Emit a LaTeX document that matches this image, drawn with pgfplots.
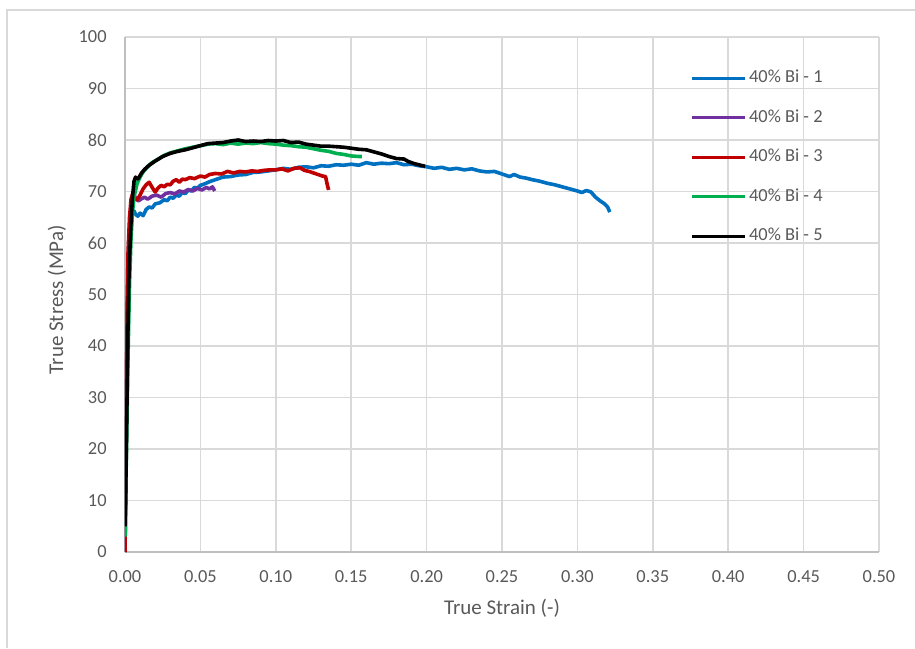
\documentclass[border=0pt]{standalone}
\usepackage{pgfplots}
\pgfplotsset{compat=1.18}
\usepackage{fontspec}
\setmainfont{Carlito}
\definecolor{sBlue}{HTML}{0070C0}
\definecolor{sPurple}{HTML}{7030A0}
\definecolor{sRed}{HTML}{C00000}
\definecolor{sGreen}{HTML}{00B050}
\definecolor{gridc}{HTML}{D9D9D9}
\definecolor{axisc}{HTML}{BFBFBF}
\definecolor{txt}{HTML}{595959}
\begin{document}
\begin{tikzpicture}
\path[use as bounding box] (-62.5pt,-48pt) rectangle (395pt,276pt);
\draw[gridc, line width=0.6pt] (-59pt,-48pt) -- (-59pt,271pt) -- (395pt,271pt);
\begin{axis}[
  scale only axis, width=377pt, height=257.5pt,
  xmin=0, xmax=0.5, ymin=0, ymax=100,
  xtick={0,0.05,...,0.5001}, ytick={0,10,...,100},
  major tick length=0pt,
  grid=major,
  major grid style={gridc, line width=0.75pt},
  axis x line*=bottom, axis y line*=left,
  axis line style={axisc, line width=0.9pt, -},
  every tick label/.append style={font=\fontsize{9.2pt}{11pt}\selectfont, text=txt},
  xticklabel style={/pgf/number format/fixed, /pgf/number format/fixed zerofill, /pgf/number format/precision=2, anchor=center, yshift=-12.5pt},
  yticklabel style={anchor=east, inner sep=0pt, xshift=-9pt},
  /pgf/number format/assume math mode=true,
  scaled x ticks=false,
  xlabel={True Strain (-)}, ylabel={True Stress (MPa)},
  every axis x label/.style={at={(axis description cs:0.5,-0.1087)}, anchor=center, font=\fontsize{10.5pt}{12pt}\selectfont, text=txt},
  every axis y label/.style={at={(axis description cs:-0.0902,0.49)}, rotate=90, anchor=center, font=\fontsize{10.5pt}{12pt}\selectfont, text=txt},
  legend style={at={(axis description cs:0.749,0.9376)}, anchor=north west, draw=none, fill=none,
    inner xsep=0pt, inner ysep=0pt, row sep=11.3pt,
    nodes={inner xsep=1.5pt, inner ysep=0pt, text height=6.5pt, text depth=2pt},
    cells={anchor=west}, font=\fontsize{9.2pt}{11pt}\selectfont, text=txt},
  legend image code/.code={\draw[#1, line width=1.5pt] (0pt,0pt) -- (26.5pt,0pt);},
  every axis plot/.append style={line width=1.8pt, line join=round},
]
\addplot[sBlue] coordinates {
(0,0)(0.0005,12)(0.001,28)(0.0015,42)(0.002,52)(0.003,60)(0.004,64)(0.005,65.8)(0.006,66.2)(0.007,65.6)(0.0085,65.2)(0.010,65.8)(0.012,65.3)(0.014,66.5)(0.016,67.0)(0.018,66.8)(0.020,67.6)(0.023,67.8)(0.026,68.4)(0.028,68.2)(0.030,68.9)(0.032,68.7)(0.034,69.3)(0.036,69.1)(0.038,69.8)(0.040,69.6)(0.042,70.3)(0.044,70.1)(0.046,70.8)(0.048,70.6)(0.050,71.2)(0.053,71.5)(0.056,71.9)(0.060,72.3)(0.065,72.8)(0.070,72.9)(0.075,73.2)(0.080,73.3)(0.085,73.7)(0.090,73.8)(0.095,74.0)(0.100,74.2)(0.105,74.5)(0.110,74.3)(0.115,74.7)(0.120,74.8)(0.125,74.6)(0.130,75.0)(0.135,74.9)(0.140,75.2)(0.145,75.1)(0.150,75.3)(0.155,75.1)(0.160,75.6)(0.165,75.3)(0.170,75.5)(0.175,75.4)(0.180,75.6)(0.185,75.2)(0.190,75.3)(0.195,75.0)(0.200,74.8)(0.205,74.5)(0.210,74.7)(0.215,74.3)(0.220,74.5)(0.225,74.2)(0.230,74.4)(0.235,74.0)(0.240,73.8)(0.245,73.9)(0.250,73.4)(0.255,72.9)(0.258,73.3)(0.262,72.8)(0.266,72.6)(0.270,72.3)(0.275,72.0)(0.280,71.6)(0.285,71.3)(0.290,70.9)(0.295,70.5)(0.300,70.1)(0.303,69.8)(0.306,70.2)(0.309,69.9)(0.312,68.9)(0.315,68.2)(0.318,67.6)(0.320,67.0)(0.3215,66.0)
};
\addlegendentry{40\% Bi - 1}
\addplot[sPurple] coordinates {
(0,0)(0.0005,14)(0.001,32)(0.0015,46)(0.002,56)(0.003,63)(0.004,67)(0.005,68.8)(0.006,69.5)(0.007,68.6)(0.009,68.2)(0.011,68.6)(0.013,68.9)(0.015,68.5)(0.018,69.1)(0.021,69.3)(0.024,68.9)(0.027,69.6)(0.030,69.8)(0.033,69.5)(0.036,70.1)(0.039,69.9)(0.042,70.4)(0.045,70.1)(0.048,70.6)(0.051,70.3)(0.054,70.8)(0.056,70.5)(0.058,70.9)(0.0595,70.1)
};
\addlegendentry{40\% Bi - 2}
\addplot[sRed] coordinates {
(0,0)(0.0005,15)(0.001,33)(0.0015,48)(0.002,58)(0.003,65)(0.004,68.5)(0.005,69.5)(0.006,68.8)(0.008,68.4)(0.010,69.3)(0.012,70.5)(0.014,71.3)(0.016,71.8)(0.018,70.8)(0.020,69.9)(0.022,70.7)(0.024,71.2)(0.026,70.9)(0.028,71.4)(0.030,71.3)(0.032,72.0)(0.034,72.3)(0.036,71.8)(0.038,72.4)(0.040,72.3)(0.043,72.7)(0.046,72.5)(0.050,73.0)(0.053,72.8)(0.056,73.3)(0.060,73.5)(0.064,73.4)(0.068,73.9)(0.072,73.6)(0.076,73.9)(0.080,73.8)(0.084,74.0)(0.088,73.9)(0.092,74.1)(0.096,74.2)(0.100,74.2)(0.104,74.4)(0.108,74.0)(0.112,74.5)(0.116,74.6)(0.119,74.1)(0.122,73.9)(0.125,73.6)(0.128,73.3)(0.131,73.0)(0.133,72.9)(0.134,71.5)(0.135,70.3)
};
\addlegendentry{40\% Bi - 3}
\addplot[sGreen] coordinates {
(0,3)(0.001,20)(0.002,38)(0.003,52)(0.004,61)(0.005,66)(0.006,69)(0.008,71.5)(0.010,72.8)(0.012,73.8)(0.015,74.8)(0.018,75.6)(0.022,76.3)(0.026,77.0)(0.030,77.5)(0.035,77.9)(0.040,78.3)(0.045,78.6)(0.050,78.9)(0.055,79.2)(0.060,79.3)(0.065,79.1)(0.070,79.4)(0.075,79.2)(0.080,79.4)(0.085,79.3)(0.090,79.5)(0.095,79.3)(0.100,79.2)(0.105,79.0)(0.110,78.9)(0.115,78.7)(0.120,78.6)(0.125,78.3)(0.130,78.0)(0.135,77.8)(0.140,77.4)(0.145,77.2)(0.150,76.9)(0.155,76.8)(0.157,76.8)
};
\addlegendentry{40\% Bi - 4}
\addplot[black] coordinates {
(0,5)(0.0005,12)(0.001,22)(0.0015,33)(0.002,44)(0.0025,52)(0.003,57)(0.004,64)(0.005,69)(0.006,72)(0.007,72.8)(0.008,72.4)(0.009,72.6)(0.011,73.6)(0.013,74.3)(0.016,75.1)(0.020,75.9)(0.025,76.8)(0.030,77.4)(0.035,77.8)(0.040,78.1)(0.045,78.5)(0.050,78.9)(0.055,79.3)(0.060,79.4)(0.065,79.5)(0.070,79.8)(0.075,80.0)(0.080,79.7)(0.085,79.8)(0.090,79.7)(0.095,79.9)(0.100,79.8)(0.105,79.9)(0.110,79.5)(0.115,79.6)(0.120,79.2)(0.125,79.0)(0.130,78.8)(0.135,78.8)(0.140,78.7)(0.145,78.6)(0.150,78.4)(0.155,78.2)(0.160,78.1)(0.165,77.7)(0.170,77.3)(0.175,76.8)(0.180,76.4)(0.185,76.3)(0.188,75.8)(0.192,75.4)(0.196,75.1)(0.199,74.9)
};
\addlegendentry{40\% Bi - 5}
\end{axis}
\end{tikzpicture}
\end{document}
